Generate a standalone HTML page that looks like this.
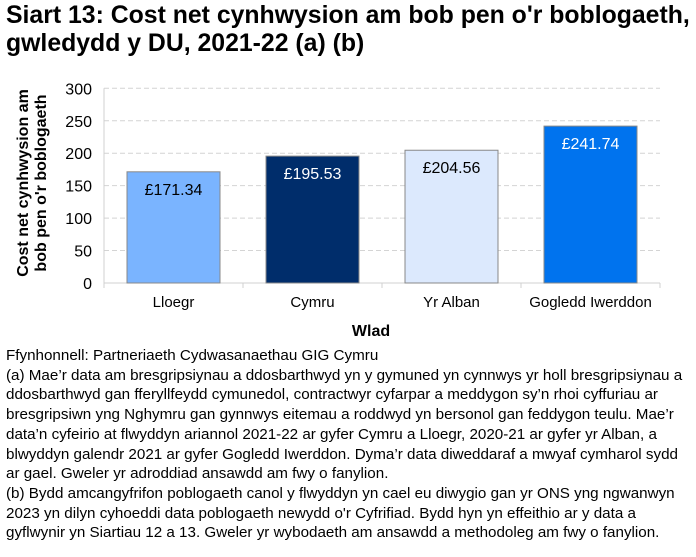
<!DOCTYPE html>
<html><head><meta charset="utf-8"><style>
body{margin:0;width:696px;height:557px;background:#fff;font-family:"Liberation Sans",sans-serif;overflow:hidden;position:relative}
#title{position:absolute;left:6px;top:2px;font-size:24.8px;font-weight:bold;line-height:28px;color:#000;margin:0;white-space:nowrap}
#notes{position:absolute;left:6px;top:346px;width:690px;font-size:15.2px;line-height:19.7px;color:#000;white-space:nowrap}
#notes p{margin:0}
svg{position:absolute;left:0;top:0}
</style></head><body>
<h1 id="title">Siart 13: Cost net cynhwysion am bob pen o'r boblogaeth,<br>gwledydd y DU, 2021-22 (a) (b)</h1>
<svg width="696" height="557"><g id="plot"></g></svg>
<div id="notes">
<p>Ffynhonnell: Partneriaeth Cydwasanaethau GIG Cymru</p>
<p>(a) Mae’r data am bresgripsiynau a ddosbarthwyd yn y gymuned yn cynnwys yr holl bresgripsiynau a<br>ddosbarthwyd gan fferyllfeydd cymunedol, contractwyr cyfarpar a meddygon sy’n rhoi cyffuriau ar<br>bresgripsiwn yng Nghymru gan gynnwys eitemau a roddwyd yn bersonol gan feddygon teulu. Mae’r<br>data’n cyfeirio at flwyddyn ariannol 2021-22 ar gyfer Cymru a Lloegr, 2020-21 ar gyfer yr Alban, a<br>blwyddyn galendr 2021 ar gyfer Gogledd Iwerddon. Dyma’r data diweddaraf a mwyaf cymharol sydd<br>ar gael. Gweler yr adroddiad ansawdd am fwy o fanylion.</p>
<p>(b) Bydd amcangyfrifon poblogaeth canol y flwyddyn yn cael eu diwygio gan yr ONS yng ngwanwyn<br>2023 yn dilyn cyhoeddi data poblogaeth newydd o'r Cyfrifiad. Bydd hyn yn effeithio ar y data a<br>gyflwynir yn Siartiau 12 a 13. Gweler yr wybodaeth am ansawdd a methodoleg am fwy o fanylion.</p>
</div>
<script>
const categories=["Lloegr","Cymru","Yr Alban","Gogledd Iwerddon"];
const values=[171.34,195.53,204.56,241.74];
const valueLabels=["£171.34","£195.53","£204.56","£241.74"];
const barColors=["#7ab4ff","#002d6b","#dce9fd","#0073ee"];
const labelColors=["#000","#fff","#000","#fff"];
const yTicks=[0,50,100,150,200,250,300];
const NS="http://www.w3.org/2000/svg";
const g=document.getElementById('plot');
const X0=104,X1=660,Y0=283,Y1=88.3,YMAX=300;
const y=v=>Y0-(v/YMAX)*(Y0-Y1);
const bw=(X1-X0)/categories.length;
const xc=i=>X0+bw*(i+0.5);
function mk(t,a){const e=document.createElementNS(NS,t);for(const k in a)e.setAttribute(k,a[k]);g.appendChild(e);return e;}
yTicks.forEach(t=>{
  if(t>0){const l=mk('line',{x1:X0,x2:X1,y1:y(t),y2:y(t),stroke:'#d4d4d4','stroke-dasharray':'5,3'});
  
  }
  const tx=mk('text',{x:X0-12,y:y(t)+6,'text-anchor':'end','font-size':'16',fill:'#000'});
  tx.textContent=t;
  
  
});
mk('line',{x1:X0,x2:X0,y1:Y1,y2:Y0+4,stroke:'#d0d0d0'});
mk('line',{x1:X0,x2:X1,y1:Y0,y2:Y0,stroke:'#d0d0d0'});
for(let i=0;i<=categories.length;i++)mk('line',{x1:X0+bw*i,x2:X0+bw*i,y1:Y0,y2:Y0+5,stroke:'#d0d0d0'});
categories.forEach((c,i)=>{
  const r=mk('rect',{x:xc(i)-46.5,y:y(values[i]),width:93,height:Y0-y(values[i]),fill:barColors[i],stroke:'#888','stroke-width':1});
  
  
  const v=mk('text',{x:xc(i),y:y(values[i])+23,'text-anchor':'middle','font-size':'16',fill:labelColors[i]});
  v.textContent=valueLabels[i];
  
  
  const t=mk('text',{x:xc(i),y:307,'text-anchor':'middle','font-size':'15',fill:'#000'});
  t.textContent=c;
  
  
});
const xt=mk('text',{x:371,y:336,'text-anchor':'middle','font-size':'16','font-weight':'bold'});
xt.textContent='Wlad';


const yt=mk('text',{transform:'translate(28,183) rotate(-90)','text-anchor':'middle','font-size':'16','font-weight':'bold'});


const s1=document.createElementNS(NS,'tspan');s1.setAttribute('x',0);s1.setAttribute('y',0);s1.textContent='Cost net cynhwysion am';yt.appendChild(s1);
const s2=document.createElementNS(NS,'tspan');s2.setAttribute('x',0);s2.setAttribute('y',18);s2.textContent="bob pen o'r boblogaeth";yt.appendChild(s2);
</script>
</body></html>
